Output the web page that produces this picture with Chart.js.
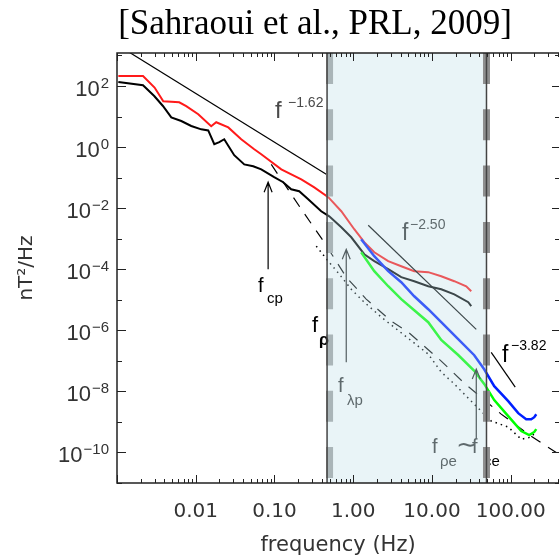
<!DOCTYPE html>
<html>
<head>
<meta charset="utf-8">
<script src="https://cdn.jsdelivr.net/npm/chart.js@4.4.0/dist/chart.umd.min.js"></script>
<style>
  html, body { margin: 0; padding: 0; background: #fff; overflow: hidden; }
  canvas { display: block; }
</style>
</head>
<body>
<canvas id="myChart" width="559" height="560"></canvas>
<script>
// spectra: frequency (Hz) and PSD (nT^2/Hz)
const redFreq = [0.00104, 0.00214, 0.0030, 0.00387, 0.00617, 0.00757, 0.01076, 0.0157, 0.0182, 0.0259, 0.0378, 0.0553, 0.0679, 0.122, 0.219, 0.320, 0.482, 0.705, 1.03, 1.38, 1.85, 2.78, 4.07, 5.95, 8.96, 13.1, 19.2, 27.2, 31.5];
const redPsd = [212, 212, 89, 31.6, 29.2, 21.7, 11.9, 4.8, 6.5, 4.4, 1.8, 0.85, 0.58, 0.187, 0.088, 0.048, 0.0228, 0.0079, 0.00204, 7.66e-4, 3.6e-4, 1.83e-4, 1.25e-4, 8.6e-5, 8.0e-5, 5.9e-5, 4.05e-5, 2.77e-5, 1.9e-5];

const blackFreq = [0.00104, 0.00214, 0.00297, 0.00383, 0.00489, 0.00655, 0.00877, 0.01174, 0.0144, 0.0172, 0.0199, 0.023, 0.0266, 0.0308, 0.0413, 0.0537, 0.0679, 0.099, 0.129, 0.163, 0.206, 0.268, 0.392, 0.496, 0.705, 0.944, 1.38, 1.85, 2.78, 4.07, 5.95, 8.96, 13.1, 19.2, 28.9, 31.5];
const blackPsd = [135, 105, 47, 22.1, 9.4, 7.1, 4.9, 3.8, 3.5, 1.24, 1.44, 1.8, 0.98, 0.54, 0.27, 0.235, 0.187, 0.103, 0.0704, 0.0416, 0.0357, 0.0196, 0.0079, 0.0054, 0.00237, 0.00111, 3.1e-4, 1.83e-4, 1.0e-4, 5.5e-5, 4.05e-5, 2.77e-5, 2.2e-5, 1.5e-5, 8.3e-6, 6.2e-6];

const blueFreq = [1.26, 1.85, 2.78, 4.07, 5.95, 8.96, 13.1, 21.5, 34.4, 46.0, 61.7, 92.9, 124.5, 157, 182, 199, 211];
const bluePsd = [9.6e-4, 2.67e-4, 8.6e-5, 3.75e-5, 1.3e-5, 4.9e-6, 1.85e-6, 5.1e-7, 1.53e-7, 5.3e-8, 1.48e-8, 4.8e-9, 1.94e-9, 1.23e-9, 1.23e-9, 1.43e-9, 1.78e-9];

const greenFreq = [1.26, 1.85, 2.78, 4.07, 5.95, 8.96, 13.1, 21.5, 34.4, 46.0, 61.7, 92.9, 136, 172, 199, 211];
const greenPsd = [3.6e-4, 8.6e-5, 2.77e-5, 1.05e-5, 4.55e-6, 1.84e-6, 4.8e-7, 1.55e-7, 4.7e-8, 1.75e-8, 5.2e-9, 1.55e-9, 5.0e-10, 3.7e-10, 4.7e-10, 5.8e-10];

const dashFreq = [0.091, 0.219, 0.428, 0.815, 1.46, 3.04, 5.0, 13.1, 24.9, 75.7, 182, 378];
const dashPsd = [0.27, 0.0092, 7.6e-4, 5.5e-5, 1.05e-5, 2.0e-6, 8.7e-7, 9.8e-8, 2.0e-8, 1.8e-9, 3.4e-10, 1.0e-10];

const dotFreq = [0.339, 0.482, 0.664, 0.944, 1.34, 2.27, 3.84, 8.96, 13.1, 19.2, 34.4, 56.5, 92.9, 136, 182, 211];
const dotPsd = [5.7e-4, 1.83e-4, 6.9e-5, 2.2e-5, 8.9e-6, 2.7e-6, 9.3e-7, 1.66e-7, 4.3e-8, 1.74e-8, 3.8e-9, 1.07e-9, 6.8e-10, 2.7e-10, 3.2e-10, 5.0e-10];

// power-law fits (end points)
const fit162Freq = [0.00143, 0.454];
const fit162Psd = [1270, 0.129];
const fit250Freq = [1.55, 36.5];
const fit250Psd = [2.75e-3, 1.07e-6];
const fit382Freq = [56.5, 114];
const fit382Psd = [1.9e-7, 1.38e-8];

// characteristic frequencies (arrow x, arrow bottom, arrow tip)
const fcpArrow = [0.083, 1e-4, 0.0705];
const flpArrow = [0.815, 9e-8, 4.5e-4];
const frePArrow = [36.5, 2.8e-10, 5.4e-8];

const shadeRange = [0.465, 49.2];

const xTickValues = [0.01, 0.1, 1, 10, 100];
const xTickLabels = ['0.01', '0.10', '1.00', '10.00', '100.00'];
const yTickExponents = [2, 0, -2, -4, -6, -8, -10];

const toXY = (xs, ys) => xs.map((v, i) => ({ x: v, y: ys[i] }));

function line(label, xs, ys, color, width, dash) {
    return {
        label: label,
        data: toXY(xs, ys),
        borderColor: color,
        borderWidth: width,
        borderDash: dash || [],
        pointRadius: 0,
        tension: 0,
        fill: false
    };
}

function arrow(ctx, x, y, spec, color) {
    const px = x.getPixelForValue(spec[0]);
    const y0 = y.getPixelForValue(spec[1]);
    const y1 = y.getPixelForValue(spec[2]);
    ctx.strokeStyle = color;
    ctx.lineWidth = 1.2;
    ctx.beginPath();
    ctx.moveTo(px, y0);
    ctx.lineTo(px, y1);
    ctx.moveTo(px - 4, y1 + 10);
    ctx.lineTo(px, y1);
    ctx.lineTo(px + 4, y1 + 10);
    ctx.stroke();
}

function txt(ctx, s, x, y, font, color, align) {
    ctx.font = font;
    ctx.fillStyle = color;
    ctx.textAlign = align || 'left';
    ctx.textBaseline = 'alphabetic';
    ctx.fillText(s, x, y);
}

function bar(ctx, px, a, color) {
    ctx.strokeStyle = color;
    ctx.lineWidth = 7;
    ctx.setLineDash([31, 25.3]);
    ctx.beginPath();
    ctx.moveTo(px, a.top);
    ctx.lineTo(px, a.bottom);
    ctx.stroke();
    ctx.setLineDash([]);
}

const decor = {
    id: 'decor',
    afterDatasetsDraw(chart) {
        const { ctx, chartArea: a, scales: { x, y } } = chart;
        const sans = '"Liberation Sans", Arial, sans-serif';
        const dv = '"DejaVu Sans", sans-serif';
        ctx.save();

        // things under the shaded band
        arrow(ctx, x, y, flpArrow, '#222');
        arrow(ctx, x, y, frePArrow, '#222');
        txt(ctx, 'f', 402, 240, '23px ' + sans, '#333');
        txt(ctx, '\u22122.50', 410, 229, '14px ' + sans, '#333');
        txt(ctx, 'f', 338, 392, '20px ' + sans, '#333');
        txt(ctx, '\u03bbp', 347, 405, '15px ' + sans, '#333');
        txt(ctx, 'f', 432, 453, '20px ' + sans, '#333');
        txt(ctx, '\u03c1e', 440, 466, '15px ' + sans, '#333');
        txt(ctx, '\u223c', 456, 453, '26px ' + sans, '#333');
        txt(ctx, 'f', 472, 453, '20px ' + sans, '#333');

        const xl = x.getPixelForValue(shadeRange[0]);
        const xr = x.getPixelForValue(shadeRange[1]);

        // left dashed bar sits under the tint
        bar(ctx, xl + 2.5, a, '#a2a2a2');

        // tinted band
        ctx.fillStyle = 'rgba(187, 222, 231, 0.32)';
        ctx.fillRect(xl, a.top, xr - xl, a.bottom - a.top);

        // labels outside the band
        arrow(ctx, x, y, fcpArrow, '#000');
        txt(ctx, 'f', 275, 118, '24px ' + sans, '#4a4a4a');
        txt(ctx, '\u22121.62', 288, 107, '14px ' + sans, '#4a4a4a');
        txt(ctx, 'f', 502, 362, '23px ' + sans, '#000');
        txt(ctx, '\u22123.82', 511, 350, '14px ' + sans, '#000');
        txt(ctx, 'f', 258, 292, '20px ' + sans, '#000');
        txt(ctx, 'cp', 267, 303, '15px ' + sans, '#000');
        txt(ctx, 'f', 312, 332, '22px ' + sans, '#000');
        txt(ctx, '\u03c1', 319, 345, 'bold 16px ' + sans, '#000');
        txt(ctx, 'ce', 484, 466, '15px ' + sans, '#000');

        // right bar over the hidden subscript
        bar(ctx, xr, a, '#8e8e8e');

        ctx.strokeStyle = '#444';
        ctx.lineWidth = 1.5;
        ctx.beginPath();
        ctx.moveTo(xl, a.top); ctx.lineTo(xl, a.bottom);
        ctx.moveTo(xr, a.top); ctx.lineTo(xr, a.bottom);
        ctx.stroke();

        // frame
        ctx.strokeStyle = '#222';
        ctx.lineWidth = 1.5;
        ctx.beginPath();
        ctx.moveTo(a.right, a.top);
        ctx.lineTo(a.left, a.top);
        ctx.lineTo(a.left, a.bottom);
        ctx.lineTo(a.right, a.bottom);
        ctx.stroke();

        // x ticks (bottom and top, pointing in)
        ctx.lineWidth = 1;
        ctx.beginPath();
        for (let d = -3; d <= 2; d++) {
            for (let m = 1; m <= 9; m++) {
                const v = m * Math.pow(10, d);
                if (v > x.max) continue;
                const px = Math.round(x.getPixelForValue(v)) + 0.5;
                const len = m === 1 ? 8 : 4;
                ctx.moveTo(px, a.bottom); ctx.lineTo(px, a.bottom - len);
                ctx.moveTo(px, a.top); ctx.lineTo(px, a.top + len);
            }
        }
        // y ticks (left and right)
        for (let e = -11; e <= 3; e++) {
            const v = Math.pow(10, e);
            if (v < y.min || v > y.max) continue;
            const py = Math.round(y.getPixelForValue(v)) + 0.5;
            const even = e % 2 === 0;
            ctx.moveTo(a.left, py); ctx.lineTo(a.left + (even ? 9 : 5), py);
            ctx.moveTo(a.right, py); ctx.lineTo(a.right - (even ? 7 : 4), py);
        }
        ctx.stroke();

        // tick labels
        xTickValues.forEach((v, i) => {
            txt(ctx, xTickLabels[i], x.getPixelForValue(v), 517, '20px ' + dv, '#333', 'center');
        });
        yTickExponents.forEach(e => {
            const py = y.getPixelForValue(Math.pow(10, e));
            const sup = e < 0 ? '\u2212' + (-e) : String(e);
            ctx.font = '15px ' + sans;
            const w = ctx.measureText(sup).width;
            txt(ctx, sup, 109, py + 2, '15px ' + sans, '#333', 'right');
            txt(ctx, '10', 108 - w, py + 10, '22px ' + sans, '#333', 'right');
        });

        // axis titles
        txt(ctx, 'frequency (Hz)', (a.left + a.right) / 2, 551, '21px ' + dv, '#333', 'center');
        ctx.save();
        ctx.translate(32, (a.top + a.bottom) / 2);
        ctx.rotate(-Math.PI / 2);
        txt(ctx, 'nT\u00b2/Hz', 0, 0, '20px ' + dv, '#333', 'center');
        ctx.restore();

        // title
        txt(ctx, '[Sahraoui et al., PRL, 2009]', 315, 34, '35px "Liberation Serif", "Times New Roman", serif', '#000', 'center');

        ctx.restore();
    }
};

const ctx = document.getElementById('myChart').getContext('2d');
const myChart = new Chart(ctx, {
    type: 'line',
    data: {
        datasets: [
            line('fit -3.82', fit382Freq, fit382Psd, '#000', 1.2),
            line('fit -2.50', fit250Freq, fit250Psd, '#000', 1.2),
            line('fit -1.62', fit162Freq, fit162Psd, '#000', 1.2),
            line('green', greenFreq, greenPsd, '#00ff00', 2.5),
            line('blue', blueFreq, bluePsd, '#0020ff', 2.5),
            line('red', redFreq, redPsd, '#ff1a1a', 2),
            line('black', blackFreq, blackPsd, '#000', 2),
            line('dashed', dashFreq, dashPsd, '#000', 1.2, [11, 9]),
            line('dotted', dotFreq, dotPsd, '#000', 1.5, [1.5, 4])
        ]
    },
    options: {
        responsive: false,
        animation: false,
        layout: { padding: { left: 117, top: 53, right: 0, bottom: 77 } },
        plugins: {
            legend: { display: false },
            tooltip: { enabled: false }
        },
        scales: {
            x: { type: 'logarithmic', min: 0.001, max: 410, display: false },
            y: { type: 'logarithmic', min: 1e-11, max: 1200, display: false }
        }
    },
    plugins: [decor]
});
</script>
</body>
</html>
